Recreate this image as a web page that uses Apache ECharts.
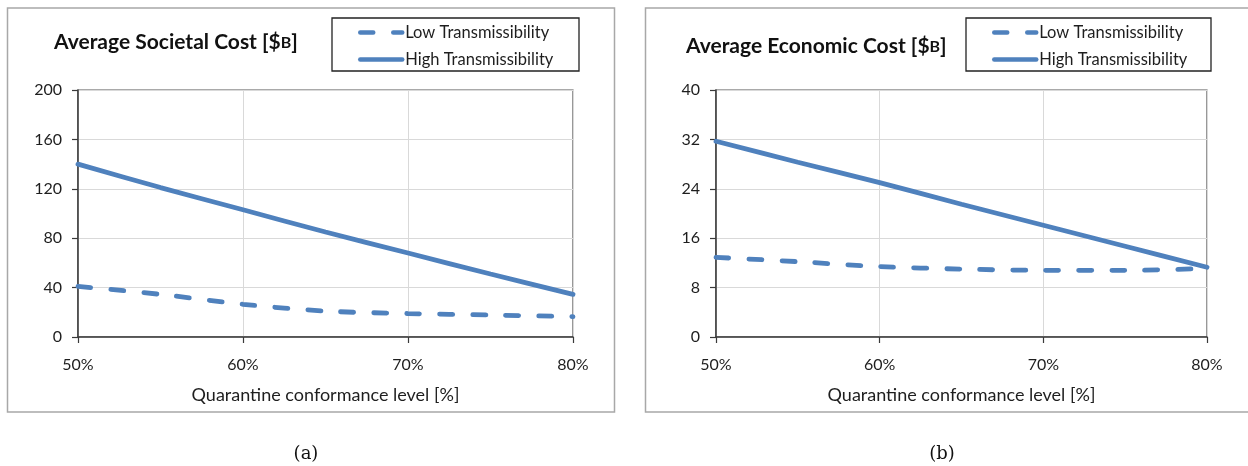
<!DOCTYPE html>
<html>
<head>
<meta charset="utf-8">
<script src="https://cdn.jsdelivr.net/npm/echarts@6/dist/echarts.min.js"></script>
<style>
html,body{margin:0;padding:0;background:#fff;}
#c{width:1248px;height:466px;}
</style>
</head>
<body>
<div id="c"></div>
<script>
const conformance = [50, 55, 60, 65, 70, 75, 80];
const societalLow = [41, 34.5, 26.5, 21, 19, 17.8, 16.5];
const societalHigh = [140, 121, 103, 85, 68, 51, 34.5];
const economicLow = [12.9, 12.2, 11.4, 11.0, 10.8, 10.8, 11.1];
const economicHigh = [31.7, 28.3, 25.0, 21.5, 18.1, 14.7, 11.3];
const seriesNames = ['Low Transmissibility', 'High Transmissibility'];
const xAxisTitle = 'Quarantine conformance level [%]';
const panelTitles = ['Average Societal Cost [$', 'Average Economic Cost [$'];
const captions = ['(a)', '(b)'];

const FONT = 'Lato, "Open Sans", sans-serif';
const BLUE = '#4F81BD';
const TXT = '#1e1e1e';

function pairs(xs, ys) { return xs.map((x, i) => [x, ys[i]]); }

const grids = [
  {left: 78, top: 90, width: 495, height: 247},
  {left: 716, top: 90, width: 491, height: 247}
];
const yMax = [200, 40];
const yInt = [40, 8];

const option = {
  animation: false,
  textStyle: {fontFamily: FONT},
  grid: grids.map(g => Object.assign({show: true, borderColor: '#555', borderWidth: 1.2, backgroundColor: '#fff'}, g)),
  title: [0, 1].map(i => ({
    text: '{a|' + panelTitles[i] + '}{b|B}{a|]}',
    left: i === 0 ? 54 : 686,
    top: i === 0 ? 32 : 36,
    padding: 0,
    textStyle: {
      rich: {
        a: {fontFamily: FONT, fontWeight: 'bold', fontSize: 21, color: '#111'},
        b: {fontFamily: FONT, fontWeight: 'bold', fontSize: 16, color: '#111'}
      }
    }
  })),
  legend: [0, 1].map(i => ({
    orient: 'vertical',
    left: i === 0 ? 358 : 992,
    top: 24,
    itemWidth: 42,
    itemHeight: 16,
    itemGap: 10,
    padding: 0,
    data: i === 0 ? ['s0low', 's0high'] : ['s1low', 's1high'],
    formatter: n => n.endsWith('low') ? seriesNames[0] : seriesNames[1],
    itemStyle: {opacity: 0},
    lineStyle: {width: 4.5, cap: 'round'},
    textStyle: {fontFamily: FONT, fontSize: 16.5, color: TXT, padding: [0, 0, 0, -2]}
  })),
  xAxis: [0, 1].map(i => ({
    type: 'value', gridIndex: i, min: 50, max: 80, interval: 10,
    name: xAxisTitle, nameLocation: 'middle', nameGap: 49,
    nameTextStyle: {fontFamily: FONT, fontSize: 18, color: TXT},
    axisLine: {show: true, onZero: false, lineStyle: {color: '#3a3a3a', width: 1.5}},
    axisTick: {show: true, length: 6, lineStyle: {color: '#3a3a3a', width: 1.2}},
    axisLabel: {formatter: '{value}%', margin: 20, fontFamily: FONT, fontSize: 16, color: TXT},
    splitLine: {show: true, lineStyle: {color: '#d9d9d9', width: 1}}
  })),
  yAxis: [0, 1].map(i => ({
    type: 'value', gridIndex: i, min: 0, max: yMax[i], interval: yInt[i],
    axisLine: {show: true, onZero: false, lineStyle: {color: '#3a3a3a', width: 1.5}},
    axisTick: {show: true, length: 6, lineStyle: {color: '#3a3a3a', width: 1.2}},
    axisLabel: {margin: 16, fontFamily: FONT, fontSize: 16, color: TXT},
    splitLine: {show: true, lineStyle: {color: '#d9d9d9', width: 1}}
  })),
  series: [
    {name: 's0low', type: 'line', xAxisIndex: 0, yAxisIndex: 0, data: pairs(conformance, societalLow), symbol: 'none', smooth: 0.3,
      lineStyle: {color: BLUE, width: 4.8, type: [13, 20], cap: 'round'}, itemStyle: {color: BLUE}},
    {name: 's0high', type: 'line', xAxisIndex: 0, yAxisIndex: 0, data: pairs(conformance, societalHigh), symbol: 'none', smooth: 0.3,
      lineStyle: {color: BLUE, width: 4.8, cap: 'round'}, itemStyle: {color: BLUE}},
    {name: 's1low', type: 'line', xAxisIndex: 1, yAxisIndex: 1, data: pairs(conformance, economicLow), symbol: 'none', smooth: 0.3,
      lineStyle: {color: BLUE, width: 4.8, type: [13, 20], cap: 'round'}, itemStyle: {color: BLUE}},
    {name: 's1high', type: 'line', xAxisIndex: 1, yAxisIndex: 1, data: pairs(conformance, economicHigh), symbol: 'none', smooth: 0.3,
      lineStyle: {color: BLUE, width: 4.8, cap: 'round'}, itemStyle: {color: BLUE}}
  ],
  graphic: [
    {type: 'rect', z: -10, shape: {x: 7.5, y: 8, width: 607, height: 404}, style: {fill: '#fff', stroke: '#a8a8a8', lineWidth: 1.5}},
    {type: 'rect', z: -10, shape: {x: 645.5, y: 8, width: 620, height: 404}, style: {fill: '#fff', stroke: '#a8a8a8', lineWidth: 1.5}},
    {type: 'rect', z: 0, shape: {x: 332, y: 18, width: 247, height: 53}, style: {fill: 'none', stroke: '#222', lineWidth: 1.3}},
    {type: 'rect', z: 0, shape: {x: 966, y: 18, width: 245, height: 53}, style: {fill: 'none', stroke: '#222', lineWidth: 1.3}},
    {type: 'text', x: 306, y: 454, style: {text: captions[0], font: '18px "DejaVu Serif", serif', fill: '#111', align: 'center', verticalAlign: 'middle'}},
    {type: 'text', x: 942, y: 454, style: {text: captions[1], font: '18px "DejaVu Serif", serif', fill: '#111', align: 'center', verticalAlign: 'middle'}}
  ]
};

const chart = echarts.init(document.getElementById('c'), null, {renderer: 'canvas'});
chart.setOption(option);
</script>
</body>
</html>
